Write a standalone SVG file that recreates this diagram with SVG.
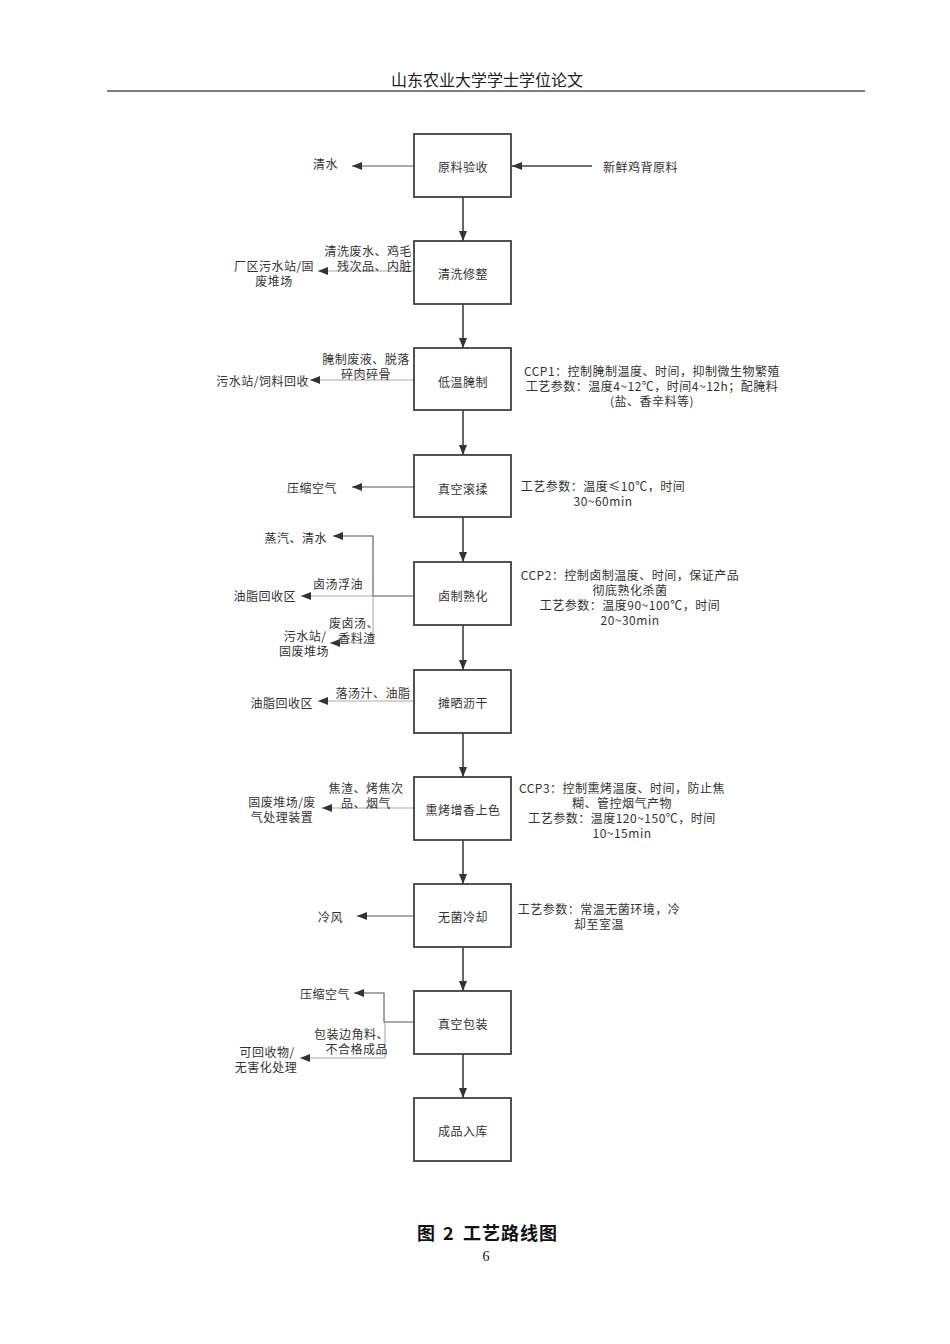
<svg xmlns="http://www.w3.org/2000/svg" width="950" height="1344" viewBox="0 0 950 1344">
<style>
.bg{fill:#fff}
.box{fill:#fff;stroke:#404040;stroke-width:1.8}
.t{font-family:"Noto Sans CJK SC","Noto Sans",sans-serif;font-size:12px;letter-spacing:0.5px;fill:#333;dominant-baseline:central}
.m{text-anchor:middle}
.e{text-anchor:end}
.main{stroke:#404040;stroke-width:1.6;fill:none}
.dk{stroke:#555;stroke-width:1.1;fill:none}
.lt{stroke:#aaa;stroke-width:1.1;fill:none}
.hdr{font-family:"Noto Sans CJK SC",serif;font-size:16px;fill:#222;text-anchor:middle}
.cap{font-family:"Noto Sans CJK SC",serif;font-size:18px;font-weight:bold;fill:#111}
</style>
<defs>
<marker id="ah" viewBox="0 0 10 10" refX="10" refY="5" markerWidth="10" markerHeight="10" markerUnits="userSpaceOnUse" orient="auto">
<path d="M0,1 L10,5 L0,9 Z" fill="#333"/>
</marker>
</defs>
<rect class="bg" x="0" y="0" width="950" height="1344"/>
<g id="header">
<text class="hdr" x="487" y="86">山东农业大学学士学位论文</text>
<line x1="107" y1="91" x2="865" y2="91" stroke="#000" stroke-width="1"/>
</g>
<g id="connectors">
<line class="main" x1="463" y1="197" x2="463" y2="241" marker-end="url(#ah)"/>
<line class="main" x1="463" y1="304" x2="463" y2="348" marker-end="url(#ah)"/>
<line class="main" x1="463" y1="410" x2="463" y2="455" marker-end="url(#ah)"/>
<line class="main" x1="463" y1="517" x2="463" y2="562" marker-end="url(#ah)"/>
<line class="main" x1="463" y1="625" x2="463" y2="670" marker-end="url(#ah)"/>
<line class="main" x1="463" y1="733" x2="463" y2="777" marker-end="url(#ah)"/>
<line class="main" x1="463" y1="840" x2="463" y2="884" marker-end="url(#ah)"/>
<line class="main" x1="463" y1="947" x2="463" y2="991" marker-end="url(#ah)"/>
<line class="main" x1="463" y1="1054" x2="463" y2="1098" marker-end="url(#ah)"/>
<path class="dk" d="M414,166 H352" marker-end="url(#ah)"/>
<path class="main" d="M592,166 H512" marker-end="url(#ah)"/>
<path class="lt" d="M414,271 H318" marker-end="url(#ah)"/>
<path class="lt" d="M414,380 H310" marker-end="url(#ah)"/>
<path class="dk" d="M414,487 H352" marker-end="url(#ah)"/>
<path class="dk" d="M414,596 H373 V536 H333" marker-end="url(#ah)"/>
<path class="lt" d="M373,596 H301" marker-end="url(#ah)"/>
<path class="lt" d="M373,596 V643 H330" marker-end="url(#ah)"/>
<path class="lt" d="M414,701 H318" marker-end="url(#ah)"/>
<path class="lt" d="M414,808 H322" marker-end="url(#ah)"/>
<path class="dk" d="M414,916 H357" marker-end="url(#ah)"/>
<path class="dk" d="M414,1022 H384 V993 H354" marker-end="url(#ah)"/>
<path class="lt" d="M385,1022 V1058 H300" marker-end="url(#ah)"/>
</g>
<g id="n1"><rect class="box" x="414" y="134" width="97" height="63"/><text class="t m" x="463" y="166">原料验收</text></g>
<g id="n2"><rect class="box" x="414" y="241" width="97" height="63"/><text class="t m" x="463" y="273">清洗修整</text></g>
<g id="n3"><rect class="box" x="414" y="348" width="97" height="62"/><text class="t m" x="463" y="381">低温腌制</text></g>
<g id="n4"><rect class="box" x="414" y="455" width="97" height="62"/><text class="t m" x="463" y="488">真空滚揉</text></g>
<g id="n5"><rect class="box" x="414" y="562" width="97" height="63"/><text class="t m" x="463" y="595">卤制熟化</text></g>
<g id="n6"><rect class="box" x="414" y="670" width="97" height="63"/><text class="t m" x="463" y="702">摊晒沥干</text></g>
<g id="n7"><rect class="box" x="414" y="777" width="97" height="63"/><text class="t m" x="463" y="809">熏烤增香上色</text></g>
<g id="n8"><rect class="box" x="414" y="884" width="97" height="63"/><text class="t m" x="463" y="916">无菌冷却</text></g>
<g id="n9"><rect class="box" x="414" y="991" width="97" height="63"/><text class="t m" x="463" y="1023">真空包装</text></g>
<g id="n10"><rect class="box" x="414" y="1098" width="97" height="63"/><text class="t m" x="463" y="1130">成品入库</text></g>
<g id="labels">
<text class="t e" x="338" y="163">清水</text>
<text class="t" x="603" y="166">新鲜鸡背原料</text>
<text class="t e" x="412" y="250">清洗废水、鸡毛</text>
<text class="t e" x="412" y="265">残次品、内脏</text>
<text class="t m" x="274" y="265">厂区污水站/固</text>
<text class="t m" x="274" y="280">废堆场</text>
<text class="t m" x="366" y="358">腌制废液、脱落</text>
<text class="t m" x="366" y="373">碎肉碎骨</text>
<text class="t e" x="309" y="380">污水站/饲料回收</text>
<text class="t m" x="652" y="370">CCP1：控制腌制温度、时间，抑制微生物繁殖</text>
<text class="t m" x="652" y="385">工艺参数：温度4~12℃，时间4~12h；配腌料</text>
<text class="t m" x="652" y="400">(盐、香辛料等)</text>
<text class="t e" x="337" y="487">压缩空气</text>
<text class="t m" x="603" y="485">工艺参数：温度≤10℃，时间</text>
<text class="t m" x="603" y="500">30~60min</text>
<text class="t e" x="327" y="537">蒸汽、清水</text>
<text class="t m" x="338" y="583">卤汤浮油</text>
<text class="t e" x="296" y="595">油脂回收区</text>
<text class="t m" x="354" y="622">废卤汤、</text>
<text class="t m" x="357" y="637">香料渣</text>
<text class="t m" x="305" y="635">污水站/</text>
<text class="t m" x="304" y="650">固废堆场</text>
<text class="t m" x="630" y="574">CCP2：控制卤制温度、时间，保证产品</text>
<text class="t m" x="630" y="589">彻底熟化杀菌</text>
<text class="t m" x="630" y="604">工艺参数：温度90~100℃，时间</text>
<text class="t m" x="630" y="619">20~30min</text>
<text class="t m" x="366" y="787">焦渣、烤焦次</text>
<text class="t m" x="366" y="802">品、烟气</text>
<text class="t m" x="282" y="801">固废堆场/废</text>
<text class="t m" x="282" y="816">气处理装置</text>
<text class="t m" x="622" y="787">CCP3：控制熏烤温度、时间，防止焦</text>
<text class="t m" x="622" y="802">糊、管控烟气产物</text>
<text class="t m" x="622" y="817">工艺参数：温度120~150℃，时间</text>
<text class="t m" x="622" y="832">10~15min</text>
<text class="t m" x="373" y="692">落汤汁、油脂</text>
<text class="t e" x="313" y="702">油脂回收区</text>
<text class="t e" x="343" y="916">冷风</text>
<text class="t m" x="599" y="908">工艺参数：常温无菌环境，冷</text>
<text class="t m" x="599" y="923">却至室温</text>
<text class="t e" x="350" y="993">压缩空气</text>
<text class="t e" x="389" y="1033">包装边角料、</text>
<text class="t e" x="388" y="1048">不合格成品</text>
<text class="t m" x="267" y="1051">可回收物/</text>
<text class="t m" x="266" y="1066">无害化处理</text>
</g>
<g id="caption">
<text class="cap" x="417" y="1240">图</text>
<text class="cap" x="443" y="1240" font-family="Liberation Serif">2</text>
<text class="cap" x="463" y="1240" textLength="94">工艺路线图</text>
<text x="486" y="1261" font-family="Liberation Serif" font-size="14" fill="#111" text-anchor="middle">6</text>
</g>
</svg>
